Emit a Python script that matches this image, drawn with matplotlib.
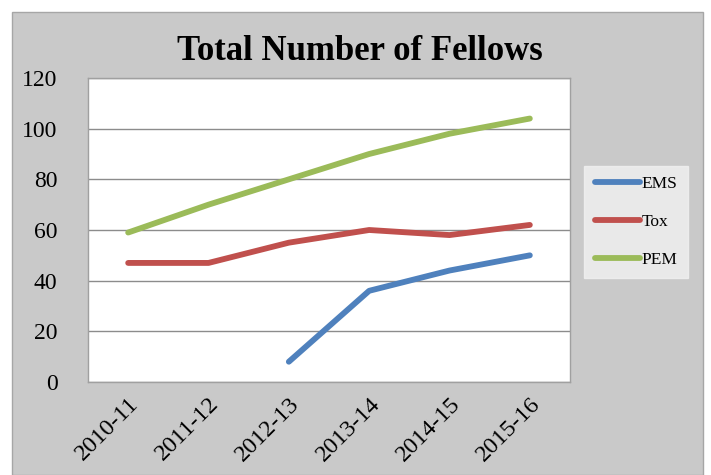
import matplotlib
matplotlib.use("Agg")
import matplotlib.pyplot as plt
import matplotlib.transforms as mtransforms
import numpy as np
from matplotlib.patches import Rectangle

categories = ["2010-11", "2011-12", "2012-13", "2013-14", "2014-15", "2015-16"]
ems = [np.nan, np.nan, 8, 36, 44, 50]
tox = [47, 47, 55, 60, 58, 62]
pem = [59, 70, 80, 90, 98, 104]
yticks = [0, 20, 40, 60, 80, 100, 120]

plt.rcParams['font.family'] = ['Liberation Serif', 'DejaVu Serif']

fig = plt.figure(figsize=(7.11, 4.75), dpi=100)
fig.patch.set_facecolor("white")
bg = Rectangle((12 / 711, 0), (703 - 12) / 711, 1 - 12 / 475, transform=fig.transFigure,
               facecolor="#c9c9c9", edgecolor="#a6a6a6", linewidth=1, zorder=-10)
fig.patches.append(bg)

ax = fig.add_axes([88 / 711, 1 - 382 / 475, (570 - 88) / 711, (382 - 78) / 475])
ax.set_facecolor("white")
x = np.arange(len(categories))
ax.plot(x, ems, color="#4F81BD", lw=4.2, solid_capstyle="round", label="EMS")
ax.plot(x, tox, color="#C0504D", lw=4.2, solid_capstyle="round", label="Tox")
ax.plot(x, pem, color="#9BBB59", lw=4.2, solid_capstyle="round", label="PEM")

ax.set_xlim(-0.5, len(categories) - 0.5)
ax.set_ylim(0, 120)
ax.set_yticks(yticks)
ax.set_yticklabels([str(v) for v in yticks], fontsize=17)
ax.set_xticks(x)
ax.set_xticklabels(categories, fontsize=17.5, rotation=45, ha="right", rotation_mode="anchor")
offset = mtransforms.ScaledTranslation(-8 / 100, 0, fig.dpi_scale_trans)
for lbl in ax.get_xticklabels():
    lbl.set_transform(lbl.get_transform() + offset)
ax.tick_params(axis="y", length=0, pad=22)
ax.tick_params(axis="x", length=0, pad=8)
ax.yaxis.grid(True, color="#8c8c8c", lw=1)
ax.set_axisbelow(True)
for s in ax.spines.values():
    s.set_color("#a0a0a0")
    s.set_linewidth(1)

fig.text(360 / 711, 1 - 52 / 475, "Total Number of Fellows", ha="center", va="center",
         fontsize=25, fontweight="bold")

leg = fig.legend(loc="center", bbox_to_anchor=(636 / 711, 1 - 222 / 475), frameon=True,
                 fontsize=12.5, handlelength=2.6, handletextpad=0.1, labelspacing=1.25,
                 borderpad=0.6, borderaxespad=0, fancybox=False)
leg.get_frame().set_facecolor("#f2f2f2")
leg.get_frame().set_edgecolor("#f2f2f2")

fig.savefig("out.png", dpi=100)
